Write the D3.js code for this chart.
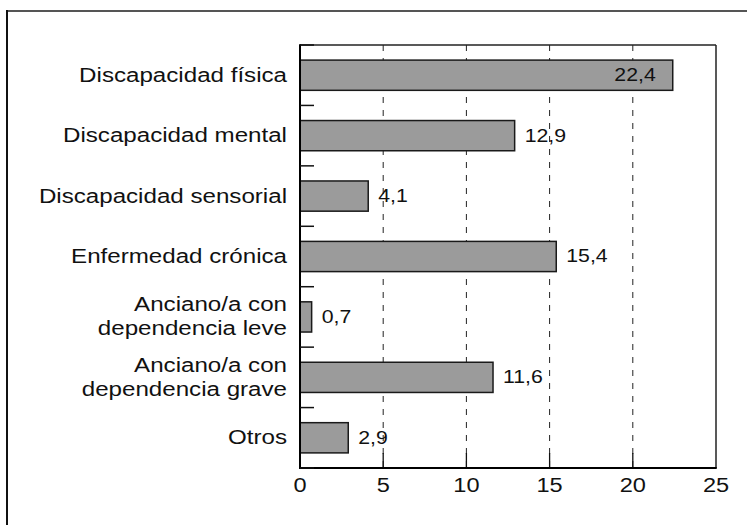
<!DOCTYPE html>
<html>
<head>
<meta charset="utf-8">
<script src="https://cdn.jsdelivr.net/npm/d3@7"></script>
<style>
  html, body { margin: 0; padding: 0; background: #fff; }
  svg { display: block; }
  text { font-family: "Liberation Sans", Arial, Helvetica, sans-serif; fill: #111; }
</style>
</head>
<body>
<svg id="chart" width="747" height="525"></svg>
<script>
const categories = [
  ["Discapacidad física"],
  ["Discapacidad mental"],
  ["Discapacidad sensorial"],
  ["Enfermedad crónica"],
  ["Anciano/a con", "dependencia leve"],
  ["Anciano/a con", "dependencia grave"],
  ["Otros"]
];
const values = [22.4, 12.9, 4.1, 15.4, 0.7, 11.6, 2.9];
const valueLabels = ["22,4", "12,9", "4,1", "15,4", "0,7", "11,6", "2,9"];
const xTicks = [0, 5, 10, 15, 20, 25];

const svg = d3.select("#chart");
const W = 747, H = 525;
const m = { left: 300, right: 31, top: 45, bottom: 57 };
const x0 = m.left, x1 = W - m.right, y0 = m.top, y1 = H - m.bottom;
const SX = 1.15;

const keys = categories.map((c, i) => i);
const x = d3.scaleLinear().domain([0, 25]).range([x0, x1]);
const y = d3.scaleBand().domain(keys).range([y0, y1]).paddingInner(0.5).paddingOuter(0.25);

function stext(g, tx, ty, str, size, anchor) {
  return g.append("text")
    .attr("transform", `translate(${tx},${ty}) scale(${SX},1)`)
    .attr("text-anchor", anchor)
    .attr("dominant-baseline", "middle")
    .style("font-size", size + "px")
    .text(str);
}

// outer frame (top and left edges only)
svg.append("line").attr("x1", 7).attr("x2", W).attr("y1", 11).attr("y2", 11)
  .attr("stroke", "#555").attr("stroke-width", 2);
svg.append("line").attr("x1", 7).attr("x2", 7).attr("y1", 10).attr("y2", H)
  .attr("stroke", "#111").attr("stroke-width", 2);

// gridlines
const grid = svg.append("g");
xTicks.filter(t => t > 0 && t < 25).forEach(t => {
  grid.append("line").attr("x1", x(t)).attr("x2", x(t)).attr("y1", y0).attr("y2", y1)
    .attr("stroke", "#222").attr("stroke-width", 1).attr("stroke-dasharray", "6,7");
  grid.append("line").attr("x1", x(t)).attr("x2", x(t)).attr("y1", y1 - 15).attr("y2", y1)
    .attr("stroke", "#111").attr("stroke-width", 1.3);
});

// bars
svg.append("g").selectAll("rect").data(values).join("rect")
  .attr("x", x(0))
  .attr("y", (d, i) => y(i))
  .attr("width", d => x(d) - x(0))
  .attr("height", y.bandwidth())
  .attr("fill", "#9b9b9b")
  .attr("stroke", "#1a1a1a")
  .attr("stroke-width", 1.5);

// frame of plot
svg.append("line").attr("x1", x0).attr("x2", x1).attr("y1", y0).attr("y2", y0).attr("stroke", "#222").attr("stroke-width", 1.3);
svg.append("line").attr("x1", x1).attr("x2", x1).attr("y1", y0).attr("y2", y1).attr("stroke", "#222").attr("stroke-width", 1.5);
svg.append("line").attr("x1", x0).attr("x2", x0).attr("y1", y0 - 0.75).attr("y2", y1 + 1).attr("stroke", "#000").attr("stroke-width", 2);
svg.append("line").attr("x1", x0 - 1).attr("x2", x1 + 0.75).attr("y1", y1).attr("y2", y1).attr("stroke", "#000").attr("stroke-width", 2);

// y ticks at band boundaries
const step = y.step();
d3.range(keys.length + 1).forEach(k => {
  const yy = y0 + k * step;
  svg.append("line").attr("x1", x0).attr("x2", x0 + 14).attr("y1", yy).attr("y2", yy)
    .attr("stroke", "#111").attr("stroke-width", 1.5);
});

// category labels
const labG = svg.append("g");
categories.forEach((lines, i) => {
  const cy = y(i) + y.bandwidth() / 2;
  const lh = 24;
  lines.forEach((ln, j) => {
    const yy = cy + (j - (lines.length - 1) / 2) * lh;
    stext(labG, 287, yy + 1, ln, 21, "end");
  });
});

// value labels
const valG = svg.append("g");
values.forEach((v, i) => {
  const cy = y(i) + y.bandwidth() / 2;
  if (v > 20) {
    stext(valG, x(v) - 17, cy + 1, valueLabels[i], 18.5, "end");
  } else {
    stext(valG, x(v) + 10, cy + 1, valueLabels[i], 18.5, "start");
  }
});

// x tick labels
const tickG = svg.append("g");
xTicks.forEach(t => {
  stext(tickG, x(t), y1 + 19, String(t), 20.5, "middle");
});
</script>
</body>
</html>
